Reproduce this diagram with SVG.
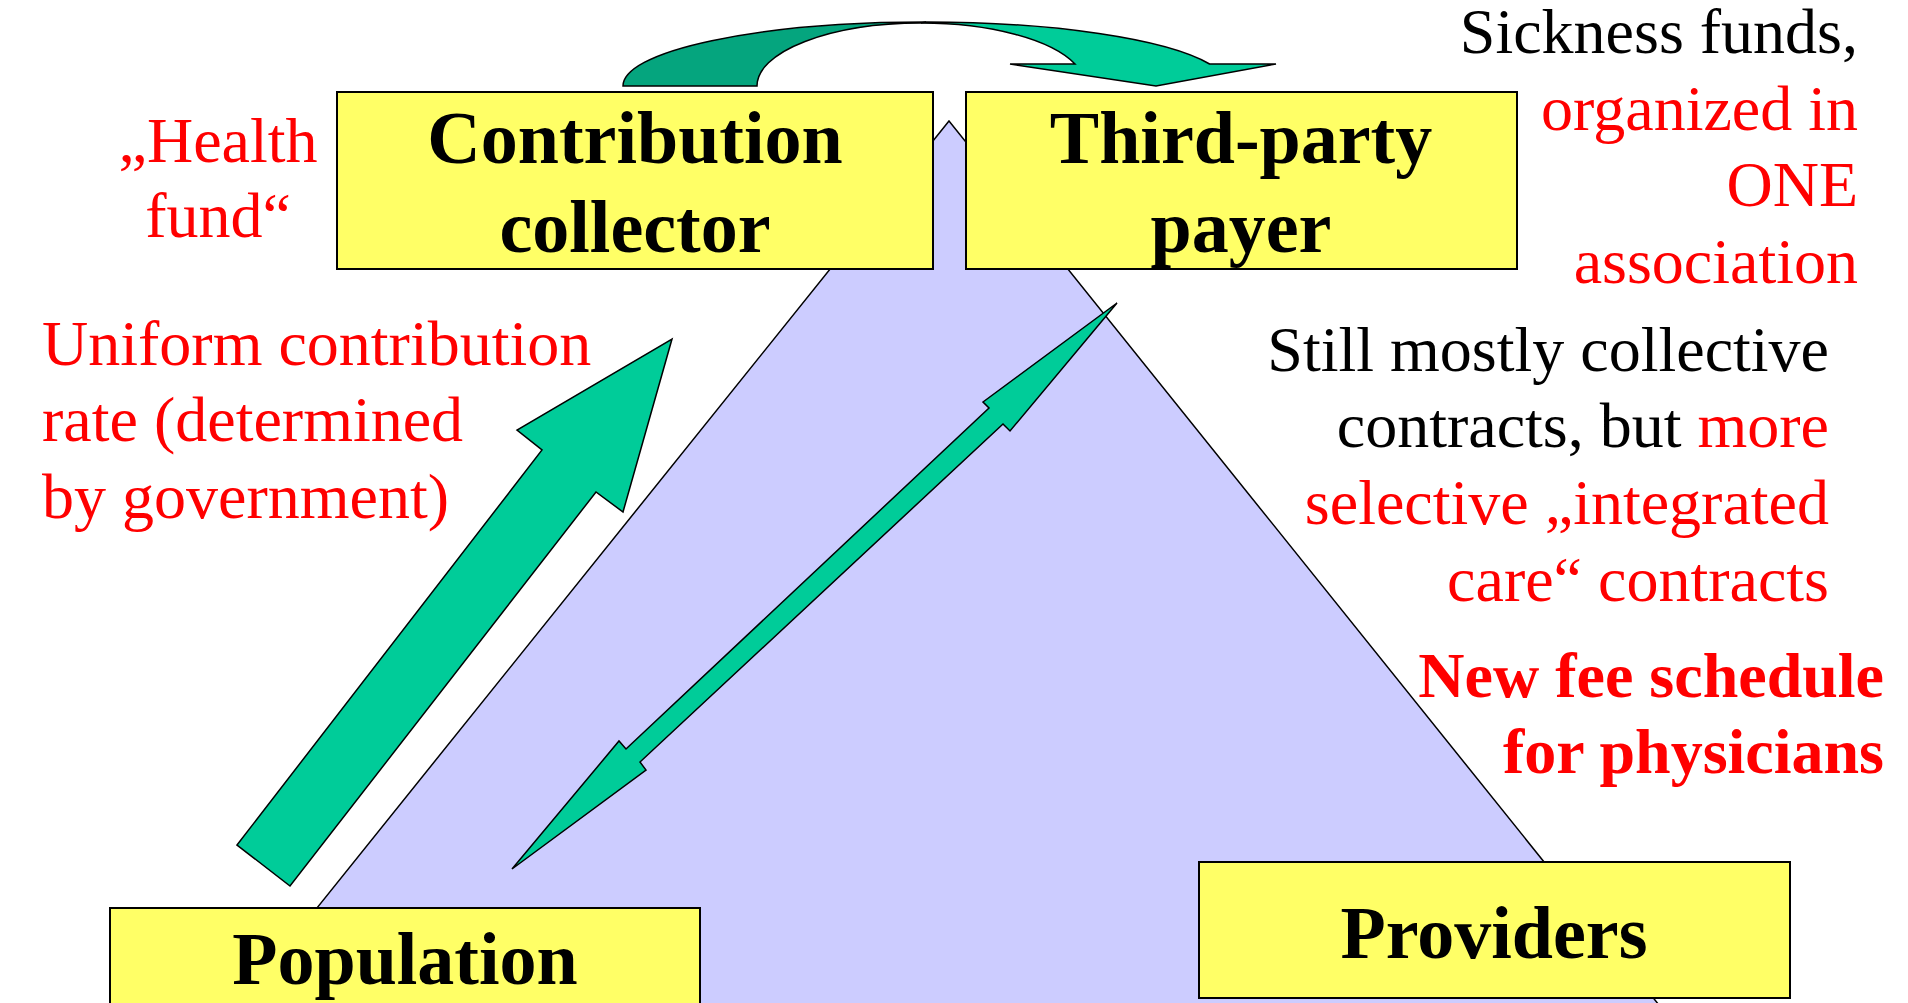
<svg xmlns="http://www.w3.org/2000/svg" width="1908" height="1003" viewBox="0 0 1908 1003">
  <style>
    .box { fill: #FFFF66; stroke: #000; stroke-width: 2; }
    .lbl { font-family: "Liberation Serif", "Times New Roman", serif; font-weight: bold; font-size: 74px; fill: #000; text-anchor: middle; }
    .note { font-family: "Liberation Serif", "Times New Roman", serif; font-size: 64px; }
    .red { fill: #FF0000; }
    .blk { fill: #000; }
    .arrow { fill: #00CC99; stroke: #000; stroke-width: 1.5; stroke-linejoin: miter; }
    .arrowDark { fill: #05A57E; stroke: #000; stroke-width: 1.5; }
  </style>
  <rect width="1908" height="1003" fill="#FFFFFF"/>

  <g id="triangle">
    <polygon points="949,121 1663,1010 235,1010" fill="#CCCCFF" stroke="#000" stroke-width="1.5"/>
  </g>

  <g id="connectors">
    <path id="curved-arrow-back" class="arrowDark" d="M623,86 A302,64 0 0 1 926,22 L921,23 A164,63 0 0 0 757,86 Z"/>
    <path id="curved-arrow-front" class="arrow" d="M926,22 A302,64 0 0 1 1209.6,64 L1276,64 L1156,86 L1010,64 L1075,64 A164,63 0 0 0 921,23 Z"/>
    <polygon id="up-arrow" class="arrow" points="237,845 542,450 517,430 672,339 623,512 596,492 290,886"/>
    <polygon id="double-arrow" class="arrow" points="1117,303 983,402 989,408 626,749 619,741 512,869 646,770 640,762 1003,424 1010,431"/>
  </g>

  <g id="node-contribution">
    <rect class="box" x="337" y="92" width="596" height="177"/>
    <text class="lbl" x="635" y="163">Contribution</text>
    <text class="lbl" x="635" y="252">collector</text>
  </g>

  <g id="node-thirdparty">
    <rect class="box" x="966" y="92" width="551" height="177"/>
    <text class="lbl" x="1241" y="163">Third-party</text>
    <text class="lbl" x="1241" y="252">payer</text>
  </g>

  <g id="node-population">
    <rect class="box" x="110" y="908" width="590" height="110"/>
    <text class="lbl" x="405" y="984">Population</text>
  </g>

  <g id="node-providers">
    <rect class="box" x="1199" y="862" width="591" height="136"/>
    <text class="lbl" x="1494" y="958">Providers</text>
  </g>

  <g id="label-healthfund" class="note red" text-anchor="middle">
    <text x="218" y="162">„Health</text>
    <text x="218" y="237">fund“</text>
  </g>

  <g id="label-uniform" class="note red">
    <text x="42" y="365">Uniform contribution</text>
    <text x="42" y="441">rate (determined</text>
    <text x="42" y="518">by government)</text>
  </g>

  <g id="label-sickness" class="note" text-anchor="end">
    <text class="blk" x="1858" y="53">Sickness funds,</text>
    <text class="red" x="1858" y="130">organized in</text>
    <text class="red" x="1858" y="206">ONE</text>
    <text class="red" x="1858" y="283">association</text>
  </g>

  <g id="label-contracts" class="note" text-anchor="end">
    <text class="blk" x="1829" y="371">Still mostly collective</text>
    <text x="1829" y="447"><tspan class="blk">contracts, but </tspan><tspan class="red">more</tspan></text>
    <text class="red" x="1829" y="524">selective „integrated</text>
    <text class="red" x="1829" y="601">care“ contracts</text>
  </g>

  <g id="label-feeschedule" class="note red" text-anchor="end" font-weight="bold">
    <text x="1884" y="697">New fee schedule</text>
    <text x="1884" y="773">for physicians</text>
  </g>
</svg>
